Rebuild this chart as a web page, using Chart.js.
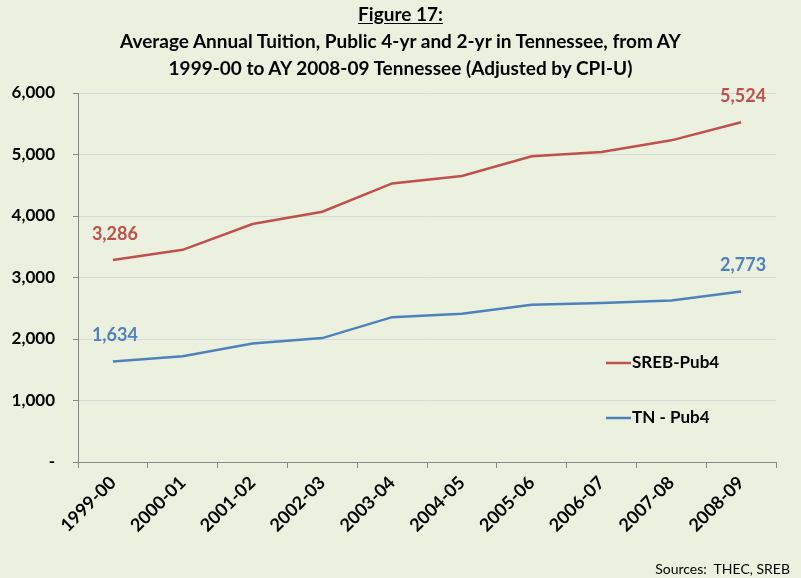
<!DOCTYPE html>
<html>
<head>
    <title>Figure 17</title>
    <script src="https://cdn.jsdelivr.net/npm/chart.js@4.4.1/dist/chart.umd.min.js"></script>
    <style>
        body {
            margin: 0;
            padding: 0;
            background-color: #EBF1DE;
            font-family: Lato, "Open Sans", sans-serif;
        }
        .wrap {
            position: relative;
            width: 801px;
            height: 578px;
        }
        .title {
            position: absolute;
            left: 0;
            top: 0px;
            width: 801px;
            text-align: center;
            font-weight: bold;
            font-size: 19px;
            line-height: 27px;
            color: #000;
        }
        .title u {
            text-underline-offset: 2px;
        }
        .source {
            position: absolute;
            right: 11px;
            bottom: 1px;
            font-size: 14px;
            color: #000;
        }
    </style>
</head>
<body>
    <div class="wrap">
        <canvas id="tuitionChart" width="801" height="578"></canvas>
        <div class="title">
            <u>Figure 17:</u><br>
            Average Annual Tuition, Public 4-yr and 2-yr in Tennessee, from AY<br>
            1999-00 to AY 2008-09 Tennessee (Adjusted by CPI-U)
        </div>
        <div class="source">Sources:&nbsp; THEC, SREB</div>
    </div>

    <script>
        // Data
        const years = ['1999-00', '2000-01', '2001-02', '2002-03', '2003-04',
                       '2004-05', '2005-06', '2006-07', '2007-08', '2008-09'];
        const srebPub4 = [3286, 3450, 3870, 4070, 4530, 4650, 4970, 5040, 5230, 5524];
        const tnPub4 = [1634, 1720, 1925, 2015, 2355, 2410, 2555, 2585, 2625, 2773];
        const yTicks = [0, 1000, 2000, 3000, 4000, 5000, 6000];

        const red = '#C0504D';
        const blue = '#4F81BD';

        // Value labels on first and last points
        const endLabels = {
            id: 'endLabels',
            afterDatasetsDraw(chart) {
                const ctx = chart.ctx;
                ctx.save();
                ctx.font = 'bold 18px Lato, sans-serif';
                ctx.textAlign = 'center';
                ctx.textBaseline = 'bottom';
                chart.data.datasets.forEach((ds, i) => {
                    const meta = chart.getDatasetMeta(i);
                    ctx.fillStyle = ds.borderColor;
                    [0, ds.data.length - 1].forEach(idx => {
                        const pt = meta.data[idx];
                        ctx.fillText(ds.data[idx].toLocaleString('en-US'), pt.x + 2, pt.y - 17);
                    });
                });
                ctx.restore();
            }
        };

        // Legend drawn inside the plot on the right
        const sideLegend = {
            id: 'sideLegend',
            afterDraw(chart) {
                const ctx = chart.ctx;
                const ys = [363, 418];
                ctx.save();
                ctx.font = 'bold 17px Lato, sans-serif';
                ctx.textBaseline = 'middle';
                chart.data.datasets.forEach((ds, i) => {
                    ctx.strokeStyle = ds.borderColor;
                    ctx.lineWidth = 2.5;
                    ctx.beginPath();
                    ctx.moveTo(606, ys[i]);
                    ctx.lineTo(631, ys[i]);
                    ctx.stroke();
                    ctx.fillStyle = '#000';
                    ctx.fillText(ds.label, 632, ys[i]);
                });
                ctx.restore();
            }
        };

        const ctx = document.getElementById('tuitionChart').getContext('2d');
        const tuitionChart = new Chart(ctx, {
            type: 'line',
            data: {
                labels: years,
                datasets: [
                    {
                        label: 'SREB-Pub4',
                        data: srebPub4,
                        borderColor: red,
                        borderWidth: 2.5,
                        pointRadius: 0,
                        tension: 0,
                        fill: false
                    },
                    {
                        label: 'TN - Pub4',
                        data: tnPub4,
                        borderColor: blue,
                        borderWidth: 2.5,
                        pointRadius: 0,
                        tension: 0,
                        fill: false
                    }
                ]
            },
            options: {
                responsive: false,
                animation: false,
                layout: {
                    padding: { top: 93, right: 25, left: 0, bottom: 0 }
                },
                plugins: {
                    legend: { display: false },
                    tooltip: { enabled: false }
                },
                scales: {
                    x: {
                        offset: true,
                        grid: {
                            offset: true,
                            drawOnChartArea: false,
                            drawTicks: true,
                            tickLength: 6,
                            tickColor: '#868686'
                        },
                        border: { color: '#868686', width: 1 },
                        ticks: {
                            color: '#000',
                            font: { family: 'Lato', size: 18, weight: 'bold' },
                            maxRotation: 45,
                            minRotation: 45,
                            padding: 4,
                            autoSkip: false
                        },
                        afterFit: s => { s.height = 116; }
                    },
                    y: {
                        min: 0,
                        max: 6000,
                        afterBuildTicks: s => { s.ticks = yTicks.map(v => ({ value: v })); },
                        grid: {
                            color: '#D9D9D9',
                            tickColor: '#868686',
                            tickLength: 5
                        },
                        border: { color: '#868686', width: 1 },
                        ticks: {
                            color: '#000',
                            font: { family: 'Lato', size: 17, weight: 'bold' },
                            padding: 18,
                            callback: v => v === 0 ? '-' : v.toLocaleString('en-US')
                        },
                        afterFit: s => { s.width = 78; }
                    }
                }
            },
            plugins: [endLabels, sideLegend]
        });
    </script>
</body>
</html>
